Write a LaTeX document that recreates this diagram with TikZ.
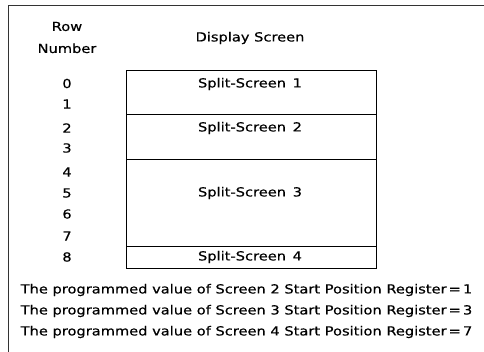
\documentclass[tikz,border=0pt]{standalone}
\usepackage{fontspec}
\setmainfont{DejaVu Sans}[FakeStretch=1.17,FakeBold=0.4]
\begin{document}
\begin{tikzpicture}[x=1pt,y=-1pt,
  lbl/.style={inner sep=0pt, font=\fontsize{12.5}{14}\selectfont},
  rowno/.style={lbl, anchor=center},
  frame/.style={line width=0.8pt, draw=black!80},
  screen/.style={draw, line width=1pt, minimum width=250pt, inner sep=0pt}]
\useasboundingbox (0,0) rectangle (484,352);
\fill[white] (0,0) rectangle (484,352);
% outer frame (top and left edges)
\coordinate (fl) at (8.5,352);
\coordinate (ftl) at (8.5,5);
\coordinate (ftr) at (484,5);
\draw[frame] (fl) -- (ftl) -- (ftr);
% headings
\node[lbl, align=center] (rowhead) at (67,37.5) {Row\\[8pt]Number};
\node[lbl] (disphead) at (250,38) {Display Screen};
% screens
\node[screen, minimum height=44pt, anchor=north west] (s1) at (125.5,70.5) {};
\node[screen, minimum height=44.5pt, anchor=north west] (s2) at (125.5,114.5) {};
\node[screen, minimum height=87pt, anchor=north west] (s3) at (125.5,159) {};
\node[screen, minimum height=22pt, anchor=north west] (s4) at (125.5,246) {};
\node[lbl] (t1) at (250,84) {Split-Screen\hspace{2pt} 1};
\node[lbl] (t2) at (250,128) {Split-Screen\hspace{2pt} 2};
\node[lbl] (t3) at (250,193) {Split-Screen\hspace{2pt} 3};
\node[lbl] (t4) at (250,257) {Split-Screen\hspace{2pt} 4};
% row numbers
\node[rowno] (r0) at (67,83.5) {0};
\node[rowno] (r1) at (67,104) {1};
\node[rowno] (r2) at (67,128) {2};
\node[rowno] (r3) at (67,148) {3};
\node[rowno] (r4) at (67,172) {4};
\node[rowno] (r5) at (67,193) {5};
\node[rowno] (r6) at (67,214) {6};
\node[rowno] (r7) at (67,236) {7};
\node[rowno] (r8) at (67,257) {8};
% notes
\node[lbl, anchor=west] (n1) at (20.5,290) {The programmed value of Screen 2 Start Position Register\,=\,1};
\node[lbl, anchor=west] (n2) at (20.5,311) {The programmed value of Screen 3 Start Position Register\,=\,3};
\node[lbl, anchor=west] (n3) at (20.5,332) {The programmed value of Screen 4 Start Position Register\,=\,7};
\end{tikzpicture}
\end{document}
